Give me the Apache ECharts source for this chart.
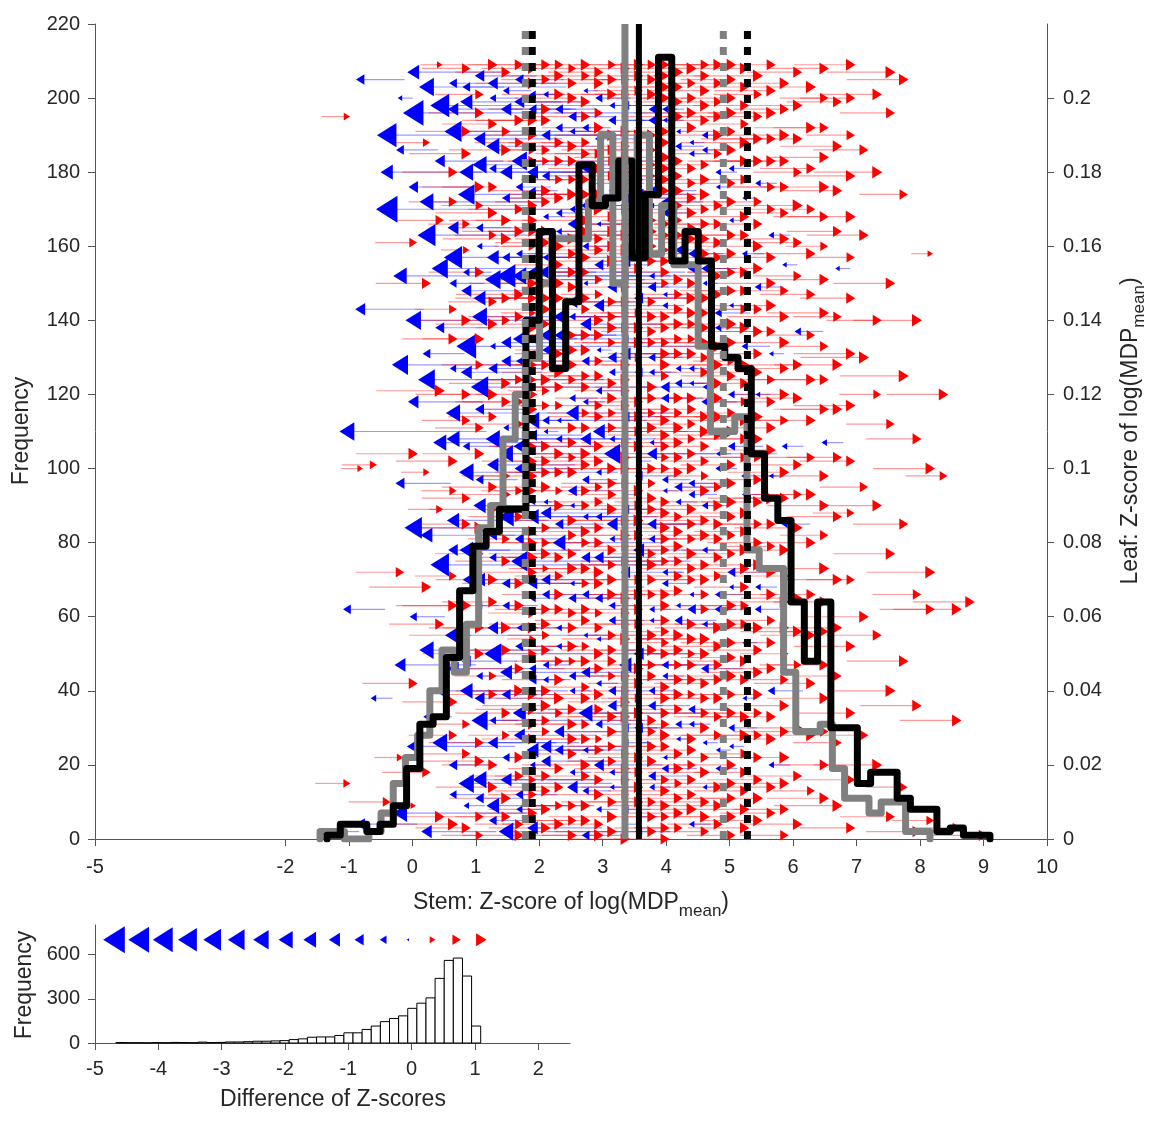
<!DOCTYPE html>
<html>
<head>
<meta charset="utf-8">
<script src="https://cdn.jsdelivr.net/npm/echarts@6/dist/echarts.min.js"></script>
<style>
  html, body { margin: 0; background: #fff; }
  #chart { width: 1161px; height: 1124px; }
</style>
</head>
<body>
<div id="chart"></div>
<script>
// stem histograms (after = black, before = gray), 50 bins each
const blackStart = -1.344, blackWidth = 0.2089
const blackCounts = [1,4,4,2,4, 9,19,31,33,49, 67,79,83,89,89, 140,164,127,145,182,
  171,173,183,157,174, 211,156,164,156,133, 130,127,104,92,86, 64,48,64,30,30,
  15,18,18,11,8, 8,2,3,1,1]
const grayStart = -1.454, grayWidth = 0.1922
const grayCounts = [2,2,0,0,2, 7,15,22,28,40, 51,45,58,84,90, 108,120,130,150,162,
  162,162,172,190,150, 160,190,158,171,155, 155,133,110,110,114, 78,73,73,45,29,
  29,31,19,11,11, 7,10,10,2,2]

// means and spread lines
const blackMean = 3.57, grayMean = 3.35
const blackBounds = [1.89, 5.28]
const grayBounds = [1.78, 4.90]

// arrows per black stem bin: [leaf (x1000), difference of z-scores]
const arrowsByBin = [
  [[2,-0.4]],
  [[195,0.4],[110,-2.2],[15,0.5],[62,-0.6]],
  [[205,-0.7],[143,-1.0],[100,0.3],[4,-0.9]],
  [[101,0.5],[38,-0.3]],
  [[190,-3.8],[170,-4.6],[180,-1.5],[10,0.6]],
  [[200,-0.2],[186,-0.6],[152,-1.8],[128,-2.6],[96,-0.8],[72,0.7],[47,-1.2],[22,0.4],[7,-2.0]],
  [[207,-1.4],[196,-4.2],[176,-0.9],[161,0.6],[140,-2.4],[118,-1.1],[104,0.9],[84,-3.0],[60,-0.5],[42,0.8],[25,-1.6],[9,0.3]],
  [[203,-2.2],[188,0.5],[172,-1.9],[163,-3.2],[150,0.8],[131,-0.6],[124,-2.8],[99,0.4],[82,-1.4],[68,0.9],[51,-2.0],[33,-0.4],[18,0.7],[2,-1.1]],
  [[209,0.3],[198,-3.6],[183,-1.0],[167,0.7],[154,-2.6],[138,-0.8],[121,1.0],[107,-1.7],[89,0.5],[74,-3.4],[58,0.8],[40,-0.9],[26,-2.2],[6,0.9]],
  [[204,-0.6],[191,-2.9],[180,0.8],[165,-1.2],[157,-3.3],[143,0.6],[127,-0.4],[115,-2.0],[102,0.9],[86,-1.5],[71,0.6],[55,-2.5],[37,0.8],[20,-0.7],[4,1.0],
   [197,-1.1],[172,0.7],[150,-0.5],[135,0.8],[108,-1.7],[94,0.5],[78,-0.9],[63,0.9],[46,-1.3],[28,0.7],[12,-0.5]],
  [[208,0.7],[199,-1.5],[185,0.9],[174,-2.7],[159,0.4],[148,-1.0],[133,-3.9],[120,0.8],[106,-0.5],[92,0.7],[78,-1.8],[63,1.0],[48,-0.8],[31,0.6],[15,-2.3],[3,0.8],
   [203,-0.6],[191,0.8],[180,-1.9],[166,0.6],[153,-0.4],[140,0.9],[126,-1.2],[113,0.7],[99,-2.1],[85,0.8],[70,-0.5],[55,0.9],[40,-1.6],[23,0.7],[9,-0.3]],
  [[206,-0.9],[196,0.8],[182,-2.0],[171,0.6],[160,-0.3],[146,-1.4],[135,0.9],[122,-3.0],[111,0.7],[97,-0.6],[84,1.0],[70,-1.2],[57,0.8],[44,-0.4],[32,-2.6],[21,0.9],[11,-0.7],[1,0.6],
   [201,0.7],[189,-1.3],[176,0.9],[165,-0.5],[153,0.8],[141,-2.2],[128,0.6],[116,-0.8],[104,0.9],[90,-1.5],[77,0.7],[63,-0.3],[50,0.9],[38,-1.0],[26,0.8],[16,-1.9],[6,0.7]],
  [[209,0.9],[200,-0.4],[187,-1.7],[176,0.8],[163,0.6],[151,-2.4],[139,0.9],[127,-0.8],[114,0.7],[101,-1.3],[89,1.0],[76,-0.5],[64,0.8],[50,-2.9],[39,0.7],[26,-1.0],[14,0.9],[5,-0.6],
   [204,-1.0],[193,0.8],[181,-0.5],[169,0.9],[157,-1.4],[145,0.7],[133,-0.3],[120,0.9],[108,-2.0],[95,0.8],[82,-0.7],[70,0.9],[57,-1.1],[44,0.6],[32,-0.4],[20,0.8],[9,-1.6]],
  [[207,0.8],[197,-1.1],[186,0.9],[173,-0.6],[162,1.0],[152,-3.5],[140,0.7],[129,-0.9],[118,0.8],[104,-1.9],[93,0.9],[81,0.6],[69,-0.7],[57,1.0],[45,-1.4],[34,0.8],[22,-0.5],[11,0.9],[2,-2.1],
   [202,-0.4],[191,0.7],[180,-1.5],[167,0.9],[157,-0.6],[146,0.8],[134,-1.0],[123,0.9],[111,-0.3],[98,0.7],[87,-2.4],[75,0.8],[63,-0.5],[51,0.9],[39,-0.8],[28,0.6],[16,-1.2],[6,0.8]],
  [[205,-0.7],[194,0.9],[183,-2.3],[170,0.8],[158,-0.4],[147,1.0],[135,-1.6],[124,0.7],[112,0.9],[100,-0.9],[87,0.8],[75,-2.7],[63,0.9],[52,-0.6],[40,1.0],[28,-1.2],[17,0.8],[8,-0.4],[1,0.9],
   [209,0.8],[199,-1.0],[188,0.7],[176,-0.5],[164,0.9],[152,-1.9],[141,0.8],[129,-0.4],[118,0.9],[106,-1.3],[94,0.6],[81,-0.8],[69,0.9],[57,-0.3],[46,0.8],[34,-1.7],[22,0.9],[12,-0.6],[4,0.7]],
  [[208,0.8],[201,-0.4],[194,0.9],[186,0.6],[180,-1.2],[171,0.9],[164,0.7],[157,-0.2],[150,1.0],[142,0.5],[135,-0.7],[128,0.8],[120,0.9],[113,-1.8],[106,0.6],[98,0.9],[91,-0.3],[83,0.8],[76,1.0],[69,-0.9],[61,0.7],[54,0.4],[46,-0.5],[39,0.9],[31,0.8],[24,-1.4],[16,0.6],[7,0.9],
   [204,0.9],[197,-0.6],[190,0.8],[183,0.7],[175,-0.4],[167,0.9],[160,0.6],[153,-1.0],[146,0.8],[138,0.9],[131,-0.3],[124,0.7],[116,0.9],[109,-0.8],[102,0.8],[94,0.6],[87,-1.5],[80,0.9],[72,0.8],[65,-0.4],[57,0.9],[50,0.7],[43,-0.6],[35,0.9],[27,0.8],[20,-0.3],[12,0.7],[3,-1.1]],
  [[205,0.7],[197,0.9],[190,-0.8],[183,0.5],[175,0.9],[168,-0.3],[161,0.8],[153,-2.2],[146,0.9],[139,0.7],[132,-0.5],[124,1.0],[117,0.6],[110,-0.2],[102,0.8],[95,0.9],[88,-1.1],[80,0.7],[73,0.4],[66,-0.6],[58,0.9],[51,0.8],[43,-0.3],[36,1.0],[29,0.6],[21,-0.9],[13,0.8],[3,0.9],
   [209,0.8],[201,-0.3],[194,0.9],[186,0.7],[179,-0.6],[172,0.8],[164,0.9],[157,-0.4],[150,0.7],[143,0.9],[136,-1.3],[128,0.8],[121,0.6],[113,-0.5],[106,0.9],[99,0.8],[91,-0.2],[84,0.7],[77,0.9],[70,-0.8],[62,0.8],[55,0.6],[47,-0.4],[40,0.9],[32,0.7],[25,-1.2],[17,0.8],[8,0.9]],
  [[206,0.9],[197,-0.6],[188,0.8],[178,0.6],[169,-0.4],[160,0.9],[150,1.0],[141,-1.3],[131,0.7],[122,0.8],[113,-0.2],[104,0.9],[94,0.5],[85,-0.7],[76,0.8],[66,0.9],[57,-0.3],[48,0.7],[38,1.0],[29,-1.0],[19,0.8],[9,0.6],
   [209,0.7],[201,0.9],[192,-0.5],[183,0.8],[173,0.9],[164,-0.3],[155,0.7],[146,0.8],[136,-0.9],[126,0.9],[117,0.6],[108,-0.4],[99,0.8],[90,0.9],[80,-1.6],[71,0.7],[62,0.8],[52,-0.3],[43,0.9],[34,0.6],[24,-0.7],[14,0.8],[4,0.9]],
  [[208,0.6],[200,0.9],[191,-0.3],[183,0.8],[174,1.0],[166,-0.9],[158,0.7],[149,0.8],[141,-0.4],[132,0.9],[124,0.6],[115,-1.6],[107,0.8],[99,0.9],[90,-0.2],[82,0.7],[73,1.0],[65,-0.6],[57,0.8],[48,0.5],[40,-0.3],[31,0.9],[23,0.8],[14,-1.1],[5,0.7],
   [204,0.8],[195,-0.7],[187,0.9],[178,0.6],[170,-0.3],[162,0.9],[153,0.8],[145,-1.0],[136,0.7],[128,0.9],[119,-0.4],[111,0.8],[103,0.6],[94,-0.8],[86,0.9],[77,0.8],[69,-0.2],[61,0.7],[52,0.9],[44,-0.5],[35,0.8],[27,0.9],[18,-0.3],[9,0.7],[1,0.8]],
  [[209,0.9],[202,-0.2],[195,0.8],[188,0.7],[181,-0.7],[174,0.9],[167,1.0],[160,-0.4],[153,0.6],[146,0.8],[139,-1.2],[132,0.9],[125,0.7],[118,-0.3],[111,0.8],[104,1.0],[97,-0.5],[90,0.7],[83,0.9],[76,-0.8],[69,0.6],[62,0.8],[55,-0.2],[48,0.9],[41,0.7],[34,-1.9],[27,0.8],[20,1.0],[13,-0.4],[5,0.9],
   [206,0.7],[199,0.9],[192,-0.4],[185,0.8],[178,0.6],[171,-0.9],[164,0.8],[157,0.9],[150,-0.2],[143,0.7],[136,0.9],[129,-0.6],[122,0.8],[115,0.6],[108,-1.1],[101,0.9],[94,0.8],[87,-0.3],[80,0.7],[73,0.9],[66,-0.5],[59,0.8],[52,0.6],[45,-0.8],[38,0.9],[31,0.7],[24,-0.3],[17,0.8],[9,0.9],[1,-0.6]],
  [[207,0.8],[200,-0.5],[192,0.9],[185,0.7],[177,-0.3],[170,1.0],[162,0.8],[155,-0.8],[147,0.6],[140,0.9],[132,-0.2],[125,0.8],[117,0.7],[110,-1.4],[102,0.9],[95,0.6],[87,-0.4],[80,0.8],[72,1.0],[65,-0.6],[57,0.7],[50,0.9],[42,-0.3],[35,0.8],[27,0.5],[20,-1.0],[12,0.9],[4,0.8],
   [204,0.9],[196,0.7],[189,-0.6],[181,0.8],[174,0.9],[166,-0.2],[159,0.8],[151,0.6],[144,-1.1],[136,0.9],[129,0.7],[121,-0.4],[114,0.8],[106,0.9],[99,-0.3],[91,0.7],[84,0.8],[76,-0.9],[69,0.9],[61,0.6],[54,-0.2],[46,0.8],[39,0.9],[31,-0.5],[24,0.7],[16,0.8],[8,-0.3],[1,0.9]],
  [[209,0.6],[201,0.9],[194,-0.6],[186,0.8],[179,0.7],[171,-0.2],[164,0.9],[156,1.0],[149,-0.9],[141,0.8],[134,0.6],[126,-0.4],[119,0.9],[111,0.7],[104,-2.6],[96,0.8],[89,1.0],[81,-0.3],[74,0.7],[66,0.9],[59,-0.5],[51,0.8],[44,0.6],[36,-0.8],[29,0.9],[21,0.7],[14,-0.2],[6,1.0],
   [205,0.8],[198,-0.3],[190,0.9],[183,0.6],[175,-0.5],[168,0.8],[160,0.9],[153,-0.2],[145,0.7],[138,0.9],[130,-0.8],[123,0.8],[115,0.6],[108,-0.3],[100,0.9],[93,0.7],[85,-1.2],[78,0.8],[70,0.9],[63,-0.4],[55,0.7],[48,0.8],[40,-0.6],[33,0.9],[25,0.7],[18,-0.3],[10,0.8],[2,0.9]],
  [[208,0.9],[201,0.7],[194,-0.3],[187,0.8],[180,1.0],[173,-0.7],[166,0.6],[159,0.9],[152,-0.4],[145,0.8],[138,0.7],[131,-1.1],[124,0.9],[117,0.8],[110,-0.2],[103,1.0],[96,0.6],[89,-0.6],[82,0.9],[75,0.7],[68,-0.3],[61,0.8],[54,1.0],[47,-1.5],[40,0.7],[33,0.9],[26,-0.4],[19,0.8],[12,0.6],[4,-0.2],
   [205,0.7],[198,-0.6],[191,0.9],[184,0.8],[177,-0.3],[170,0.7],[163,0.9],[156,-1.0],[149,0.8],[142,0.6],[135,-0.4],[128,0.9],[121,0.8],[114,-0.7],[107,0.7],[100,0.9],[93,-0.2],[86,0.8],[79,0.6],[72,-0.9],[65,0.9],[58,0.7],[51,-0.3],[44,0.8],[37,0.9],[30,-0.5],[23,0.7],[16,0.8],[8,-0.4],[0,0.9]],
  [[206,0.8],[198,-0.4],[190,0.9],[182,0.7],[174,-0.9],[166,1.0],[158,0.8],[150,-0.3],[142,0.6],[134,0.9],[126,-0.6],[118,0.8],[110,0.7],[102,-0.2],[94,0.9],[86,1.0],[78,-1.2],[70,0.7],[62,0.8],[54,-0.4],[46,0.9],[38,0.6],[30,-0.7],[22,0.8],[14,0.9],[6,-0.3],
   [209,0.9],[202,0.7],[194,-0.5],[186,0.8],[178,0.9],[170,-0.2],[162,0.7],[154,0.8],[146,-0.8],[138,0.9],[130,0.6],[122,-0.3],[114,0.8],[106,0.9],[98,-0.6],[90,0.7],[82,0.8],[74,-0.4],[66,0.9],[58,0.7],[50,-1.0],[42,0.8],[34,0.9],[26,-0.2],[18,0.7],[10,0.8],[2,-0.5]],
  [[209,0.7],[201,0.9],[194,-0.5],[186,0.8],[179,0.6],[171,-0.2],[164,1.0],[156,0.8],[149,-0.7],[141,0.9],[134,0.7],[126,-0.3],[119,0.8],[111,0.9],[104,-1.0],[96,0.6],[89,0.8],[81,-0.4],[74,1.0],[66,0.7],[59,-0.2],[51,0.9],[44,0.8],[36,-0.6],[29,0.7],[21,0.9],[14,-0.3],[6,0.8],
   [205,0.8],[197,-0.4],[190,0.9],[182,0.7],[175,-0.7],[167,0.8],[160,0.9],[152,-0.3],[145,0.7],[137,0.8],[130,-0.5],[122,0.9],[115,0.6],[107,-0.2],[100,0.8],[92,0.9],[85,-0.8],[77,0.7],[70,0.8],[62,-0.3],[55,0.9],[47,0.7],[40,-0.4],[32,0.8],[25,0.9],[17,-0.6],[10,0.7],[2,0.8]],
  [[209,0.8],[203,0.9],[197,-0.3],[191,0.7],[184,1.0],[178,0.8],[172,-0.6],[166,0.9],[159,0.6],[153,0.8],[147,-0.2],[141,0.9],[134,0.7],[128,1.0],[122,-0.8],[116,0.8],[109,0.9],[103,0.6],[97,-0.4],[91,0.8],[84,1.0],[78,0.7],[72,-0.3],[66,0.9],[59,0.8],[53,0.6],[47,-0.5],[41,0.9],[34,0.8],[28,1.0],[22,-0.2],[16,0.7],[9,0.9],[3,0.8],
   [206,0.7],[200,0.9],[194,-0.2],[188,0.8],[181,0.9],[175,0.7],[169,-0.5],[163,0.8],[156,0.9],[150,0.6],[144,-0.3],[138,0.8],[131,0.9],[125,0.7],[119,-0.6],[113,0.9],[106,0.8],[100,0.7],[94,-0.2],[88,0.9],[81,0.8],[75,0.6],[69,-0.4],[63,0.9],[56,0.7],[50,0.8],[44,-0.3],[38,0.9],[31,0.7],[25,0.8],[19,-0.5],[13,0.9],[6,0.7],[0,0.8]],
  [[207,0.9],[199,0.7],[191,-0.2],[183,0.8],[175,1.0],[167,0.6],[159,-0.5],[151,0.9],[143,0.8],[135,0.7],[127,-0.3],[119,0.9],[111,1.0],[103,0.8],[95,-0.6],[87,0.7],[79,0.9],[71,0.8],[63,-0.2],[55,1.0],[47,0.7],[39,0.9],[31,-0.4],[23,0.8],[15,0.6],[7,0.9],
   [203,0.8],[195,0.9],[187,-0.4],[179,0.7],[171,0.8],[163,0.9],[155,-0.2],[147,0.7],[139,0.9],[131,0.8],[123,-0.5],[115,0.7],[107,0.9],[99,0.8],[91,-0.3],[83,0.9],[75,0.7],[67,0.8],[59,-0.6],[51,0.9],[43,0.8],[35,0.7],[27,-0.2],[19,0.9],[11,0.8],[3,0.7]],
  [[208,1.0],[200,0.8],[192,0.9],[185,-0.3],[177,0.7],[169,0.9],[162,0.8],[154,-0.6],[146,1.0],[139,0.7],[131,0.9],[123,-0.2],[116,0.8],[108,0.6],[100,0.9],[93,-0.4],[85,0.8],[77,1.0],[70,0.7],[62,-0.7],[54,0.9],[47,0.8],[39,0.6],[31,-0.3],[24,0.9],[16,0.8],[8,1.0],
   [204,0.7],[196,0.9],[188,-0.2],[181,0.8],[173,0.9],[165,0.7],[158,-0.5],[150,0.8],[142,0.9],[135,0.6],[127,-0.3],[119,0.9],[112,0.7],[104,0.8],[96,-0.4],[89,0.9],[81,0.7],[73,0.8],[66,-0.2],[58,0.9],[50,0.6],[43,0.8],[35,-0.5],[27,0.9],[20,0.7],[12,0.8],[4,-0.3]],
  [[206,0.8],[198,0.9],[190,-0.4],[182,0.7],[174,1.0],[166,0.8],[158,0.9],[150,-0.2],[142,0.6],[134,0.9],[126,0.8],[118,-0.5],[110,1.0],[102,0.7],[94,0.9],[86,0.8],[78,-0.3],[70,0.9],[62,0.7],[54,1.0],[46,-0.6],[38,0.8],[30,0.9],[22,0.7],[14,-0.2],[6,0.9],
   [209,0.7],[202,0.9],[194,0.8],[186,-0.3],[178,0.9],[170,0.7],[162,0.8],[154,-0.5],[146,0.9],[138,0.8],[130,0.7],[122,-0.2],[114,0.9],[106,0.8],[98,0.6],[90,-0.4],[82,0.9],[74,0.8],[66,0.7],[58,-0.3],[50,0.9],[42,0.8],[34,0.7],[26,-0.2],[18,0.9],[10,0.8],[2,0.7]],
  [[209,0.9],[199,0.7],[190,1.0],[180,-0.3],[171,0.8],[161,0.9],[152,0.6],[142,-0.5],[133,0.9],[123,0.8],[114,1.0],[104,-0.2],[95,0.7],[85,0.9],[76,0.8],[66,-0.4],[57,1.0],[47,0.8],[38,0.9],[28,0.7],[19,-0.3],[9,0.9],
   [204,0.8],[195,0.9],[185,0.7],[176,-0.2],[166,0.8],[157,0.9],[147,0.7],[138,-0.4],[128,0.9],[119,0.8],[109,0.7],[100,-0.3],[90,0.9],[81,0.8],[71,0.7],[62,-0.5],[52,0.9],[43,0.8],[33,0.7],[24,-0.2],[14,0.9],[4,0.8]],
  [[205,0.8],[196,1.0],[186,0.9],[177,0.7],[167,-0.2],[158,0.9],[148,0.8],[139,1.0],[129,0.6],[120,-0.4],[110,0.9],[101,0.8],[91,1.0],[82,0.7],[72,-0.6],[63,0.9],[53,0.8],[44,1.0],[34,0.9],[25,-0.2],[15,0.8],[6,0.9],
   [209,0.9],[200,0.8],[191,0.7],[181,-0.3],[172,0.9],[163,0.8],[153,0.7],[144,-0.2],[134,0.9],[125,0.8],[115,0.7],[106,-0.5],[96,0.9],[87,0.8],[77,0.7],[68,-0.2],[58,0.9],[49,0.8],[39,0.7],[30,-0.4],[20,0.9],[11,0.8],[1,0.7]],
  [[208,0.9],[198,0.8],[188,1.0],[178,0.7],[168,0.9],[158,-0.3],[148,0.8],[138,1.0],[128,0.9],[118,0.6],[108,0.8],[98,-0.5],[88,0.9],[78,1.0],[68,0.8],[58,0.7],[48,0.9],[38,-0.2],[28,1.0],[18,0.8],[8,0.9],
   [203,0.8],[193,0.7],[183,0.9],[173,-0.2],[163,0.8],[153,0.9],[143,0.7],[133,-0.4],[123,0.8],[113,0.9],[103,0.7],[93,-0.3],[83,0.8],[73,0.9],[63,0.7],[53,-0.2],[43,0.8],[33,0.9],[23,0.7],[13,0.8],[3,0.9]],
  [[206,1.0],[195,0.8],[183,0.9],[172,0.7],[160,1.0],[149,-0.4],[137,0.9],[126,0.8],[114,1.0],[103,0.6],[91,0.9],[80,0.8],[68,-0.3],[57,1.0],[45,0.9],[34,0.7],[22,0.8],[11,1.0],
   [201,0.7],[189,0.9],[177,-0.3],[166,0.8],[154,0.9],[143,0.7],[131,0.8],[120,-0.2],[108,0.9],[97,0.8],[85,0.7],[74,0.9],[62,-0.4],[51,0.8],[39,0.9],[28,0.7],[16,0.8],[5,0.9]],
  [[209,0.8],[196,1.0],[183,0.9],[170,0.7],[157,0.9],[144,1.0],[131,-0.2],[118,0.8],[105,0.9],[92,1.0],[79,0.7],[66,0.9],[53,0.8],[40,-0.5],[27,1.0],[14,0.9],
   [202,0.9],[189,0.8],[176,0.7],[163,-0.3],[150,0.9],[137,0.8],[124,0.7],[111,0.9],[98,-0.2],[85,0.8],[72,0.9],[59,0.7],[46,0.8],[33,0.9],[20,-0.3],[7,0.8]],
  [[204,0.9],[190,1.0],[176,0.8],[162,0.9],[148,0.7],[134,1.0],[120,0.9],[106,-0.3],[92,0.8],[78,1.0],[64,0.9],[50,0.7],[36,0.9],[22,1.0],[8,0.8],
   [197,0.8],[183,0.9],[169,0.7],[155,-0.2],[141,0.9],[127,0.8],[113,0.7],[99,0.9],[85,-0.4],[71,0.8],[57,0.9],[43,0.7],[29,0.8],[15,0.9],[1,0.7]],
  [[207,0.8],[189,0.9],[171,1.0],[152,0.7],[137,-0.4],[119,0.9],[101,0.8],[84,1.0],[65,0.9],[47,0.6],[30,0.8],[4,0.9],
   [198,0.9],[180,0.7],[161,0.8],[128,0.9],[93,0.7],[56,0.9],[17,0.8]],
  [[203,1.0],[181,0.8],[158,0.9],[136,0.7],[113,0.9],[93,1.0],[66,0.8],[42,0.9],[13,0.6],
   [192,0.9],[170,0.7],[147,0.8],[124,0.9],[103,0.7],[80,0.9],[55,0.8],[28,0.9]],
  [[208,0.9],[192,0.8],[176,1.0],[160,0.6],[142,0.9],[124,0.8],[107,-0.3],[90,0.9],[73,1.0],[56,0.7],[38,0.9],[20,0.8],
   [200,0.7],[184,0.9],[168,0.8],[151,0.9],[133,0.7],[116,0.8],[98,0.9],[82,0.7],[64,0.8],[47,0.9],[29,0.7],[11,0.9]],
  [[199,0.8],[175,0.9],[154,-0.2],[128,1.0],[103,0.8],[70,0.9],[44,0.7],[9,1.0],
   [187,0.9],[164,0.8],[141,0.7],[116,0.9],[87,0.8],[57,0.9],[26,0.7]],
  [[209,0.9],[190,0.7],[168,1.0],[146,0.8],[117,0.9],[88,0.6],[52,0.9],[16,0.8],
   [200,0.8],[179,0.9],[157,0.7],[131,0.9],[102,0.8],[70,0.7],[34,0.9],[3,0.8]],
  [[186,0.8],[163,0.9],[130,1.0],[95,0.7],[60,0.9],[28,0.8]],
  [[201,0.9],[180,1.0],[140,0.8],[120,0.6],[90,0.9],[55,0.8],[20,1.0]],
  [[207,1.0],[196,0.8],[150,0.9],[112,0.7],[77,0.9],[40,1.0],[6,0.8]],
  [[205,0.9],[174,0.7],[125,1.0],[85,0.8],[48,0.9],[14,0.6]],
  [[140,1.0],[108,0.8],[66,0.7],[36,0.9],[2,0.8]],
  [[158,0.3],[100,0.9],[72,1.0],[62,0.8],[5,0.6]],
  [[120,0.9],[98,0.6]],
  [[62,1.0],[32,0.9],[3,0.7]],
  [[64,0.9]],
  [[1,0.8]]
]

// histogram of differences, 40 bins
const diffStart = -4.67, diffWidth = 0.144
const diffCounts = [3,2,2,1,3,2,4,3,2,6,3,4, 7,7,9,12,12,14,16,23,28,39,41,41,51,69,69,92,
  115,145,166,184,235,270,306,438,560,576,454,115]
// size key drawn above the difference histogram
const keyDiffs = [-4.7,-4.31,-3.93,-3.54,-3.15,-2.77,-2.38,-1.99,-1.61,-1.22,-0.83,-0.45,-0.06,0.33,0.71,1.1]
const keyLevel = 700

const stemTicks = [-5,-2,-1,0,1,2,3,4,5,6,7,8,9,10]
const leafTicks = [0,0.02,0.04,0.06,0.08,0.1,0.12,0.14,0.16,0.18,0.2]
const diffTicks = [-5,-4,-3,-2,-1,0,1,2]
const diffFreqTicks = [0,300,600]

const font = 'Liberation Sans, Arial, sans-serif'
const txt = '#262626'
const axisCol = '#555555'

function stairs(start, width, counts) {
  const pts = [[start, 0]]
  counts.forEach((c, i) => {
    pts.push([start + i * width, c], [start + (i + 1) * width, c])
  })
  pts.push([start + counts.length * width, 0])
  return pts
}

const arrowData = []
arrowsByBin.forEach((list, i) => {
  const head = blackStart + (i + 0.5) * blackWidth
  list.forEach(a => arrowData.push([head, a[0], a[1]]))
})

function triPoints(cx, cy, d) {
  const h = 12.5 * Math.sqrt(Math.abs(d))
  const w = 0.8 * h
  const s = d >= 0 ? 1 : -1
  return [[cx - s * w / 2, cy - h / 2], [cx - s * w / 2, cy + h / 2], [cx + s * w / 2, cy]]
}

function vline(x, color, dashed, idx, width) {
  return {
    type: 'line', xAxisIndex: 0, yAxisIndex: 0, data: [[x, 0], [x, 220]],
    symbol: 'none', silent: true, z: 5 + idx,
    lineStyle: { color: color, width: width, type: dashed ? [8, 8] : 'solid', cap: 'butt' }
  }
}

const chart = echarts.init(document.getElementById('chart'), null, { renderer: 'canvas' })

const baseAxis = {
  axisLine: { show: true, onZero: false, lineStyle: { color: axisCol, width: 1 } },
  splitLine: { show: false }
}
const tickFont = { fontSize: 20, color: txt, fontFamily: font }

chart.setOption({
  animation: false,
  backgroundColor: '#fff',
  grid: [
    { left: 95, top: 24, width: 952, height: 815 },
    { left: 95, top: 925, width: 475, height: 118 }
  ],
  xAxis: [
    Object.assign({}, baseAxis, {
      gridIndex: 0, type: 'value', min: -5, max: 10,
      axisTick: { show: true, length: 7, customValues: stemTicks, lineStyle: { color: axisCol } },
      axisLabel: Object.assign({ customValues: stemTicks, margin: 18 }, tickFont)
    }),
    Object.assign({}, baseAxis, {
      gridIndex: 1, type: 'value', min: -5, max: 2.5,
      axisTick: { show: true, length: 7, customValues: diffTicks, lineStyle: { color: axisCol } },
      axisLabel: Object.assign({ customValues: diffTicks, margin: 16 }, tickFont)
    })
  ],
  yAxis: [
    Object.assign({}, baseAxis, {
      gridIndex: 0, type: 'value', min: 0, max: 220, interval: 20, position: 'left',
      axisTick: { show: true, length: 7, lineStyle: { color: axisCol } },
      axisLabel: Object.assign({ margin: 15 }, tickFont)
    }),
    Object.assign({}, baseAxis, {
      gridIndex: 0, type: 'value', min: 0, max: 0.22, position: 'right',
      axisTick: { show: true, length: 7, customValues: leafTicks, lineStyle: { color: axisCol } },
      axisLabel: Object.assign({ customValues: leafTicks, margin: 16 }, tickFont)
    }),
    Object.assign({}, baseAxis, {
      gridIndex: 1, type: 'value', min: 0, max: 800, position: 'left',
      axisTick: { show: true, length: 7, customValues: diffFreqTicks, lineStyle: { color: axisCol } },
      axisLabel: Object.assign({ customValues: diffFreqTicks, margin: 15 }, tickFont)
    })
  ],
  series: [
    {
      type: 'custom', xAxisIndex: 0, yAxisIndex: 0, z: 2, silent: true,
      data: arrowData, encode: { x: 0, y: 1 },
      renderItem: function (params, api) {
        const head = api.value(0), y = api.value(1), d = api.value(2)
        const p1 = api.coord([head, y]), p0 = api.coord([head - d, y])
        return {
          type: 'line',
          shape: { x1: p0[0], y1: p0[1], x2: p1[0], y2: p1[1] },
          style: { stroke: d >= 0 ? 'rgba(255,0,0,0.4)' : 'rgba(0,0,255,0.4)', lineWidth: 1.2 }
        }
      }
    },
    {
      type: 'custom', xAxisIndex: 0, yAxisIndex: 0, z: 3, silent: true,
      data: arrowData, encode: { x: 0, y: 1 },
      renderItem: function (params, api) {
        const d = api.value(2)
        const p = api.coord([api.value(0), api.value(1)])
        return {
          type: 'polygon',
          shape: { points: triPoints(p[0], p[1], d) },
          style: { fill: d >= 0 ? '#ff0000' : '#0000ff' }
        }
      }
    },
    {
      type: 'line', xAxisIndex: 0, yAxisIndex: 0, z: 4, symbol: 'none', silent: true,
      data: stairs(grayStart, grayWidth, grayCounts),
      lineStyle: { color: '#808080', width: 7, join: 'round', cap: 'round' }
    },
    {
      type: 'line', xAxisIndex: 0, yAxisIndex: 0, z: 5, symbol: 'none', silent: true,
      data: stairs(blackStart, blackWidth, blackCounts),
      lineStyle: { color: '#000000', width: 7, join: 'round', cap: 'round' }
    },
    vline(grayBounds[0], '#808080', true, 1, 7),
    vline(grayBounds[1], '#808080', true, 1, 7),
    vline(blackBounds[0], '#000000', true, 2, 7),
    vline(blackBounds[1], '#000000', true, 2, 7),
    vline(grayMean, '#808080', false, 3, 7),
    vline(blackMean, '#000000', false, 4, 6),
    {
      type: 'custom', xAxisIndex: 1, yAxisIndex: 2, silent: true,
      data: diffCounts.map((c, i) => [diffStart + i * diffWidth, diffStart + (i + 1) * diffWidth, c]),
      encode: { x: [0, 1], y: 2 },
      renderItem: function (params, api) {
        const a = api.coord([api.value(0), api.value(2)])
        const b = api.coord([api.value(1), 0])
        return {
          type: 'rect',
          shape: { x: a[0], y: a[1], width: b[0] - a[0], height: b[1] - a[1] },
          style: { fill: '#ffffff', stroke: '#000000', lineWidth: 1 }
        }
      }
    },
    {
      type: 'custom', xAxisIndex: 1, yAxisIndex: 2, silent: true,
      data: keyDiffs.map(d => [d, keyLevel]),
      encode: { x: 0, y: 1 },
      renderItem: function (params, api) {
        const d = api.value(0)
        const p = api.coord([d, api.value(1)])
        return {
          type: 'polygon',
          shape: { points: triPoints(p[0], p[1], d) },
          style: { fill: d >= 0 ? '#ff0000' : '#0000ff' }
        }
      }
    }
  ],
  graphic: [
    {
      type: 'text', x: 22, y: 431, rotation: Math.PI / 2,
      style: { text: 'Frequency', font: '23px ' + font, fill: txt, align: 'center', verticalAlign: 'middle' }
    },
    {
      type: 'text', x: 571, y: 903,
      style: {
        text: '{a|Stem: Z-score of log(MDP}{b|mean}{a|)}', fill: txt, align: 'center', verticalAlign: 'middle',
        rich: {
          a: { fontSize: 23, fontFamily: font, fill: txt, lineHeight: 27 },
          b: { fontSize: 17, fontFamily: font, fill: txt, lineHeight: 17, padding: [16, 0, 0, 0] }
        }
      }
    },
    {
      type: 'text', x: 1131, y: 431, rotation: Math.PI / 2,
      style: {
        text: '{a|Leaf: Z-score of log(MDP}{b|mean}{a|)}', fill: txt, align: 'center', verticalAlign: 'middle',
        rich: {
          a: { fontSize: 23, fontFamily: font, fill: txt, lineHeight: 27 },
          b: { fontSize: 17, fontFamily: font, fill: txt, lineHeight: 17, padding: [16, 0, 0, 0] }
        }
      }
    },
    {
      type: 'text', x: 25, y: 985, rotation: Math.PI / 2,
      style: { text: 'Frequency', font: '23px ' + font, fill: txt, align: 'center', verticalAlign: 'middle' }
    },
    {
      type: 'text', x: 333, y: 1100,
      style: { text: 'Difference of Z-scores', font: '23px ' + font, fill: txt, align: 'center', verticalAlign: 'middle' }
    }
  ]
})
</script>
</body>
</html>
